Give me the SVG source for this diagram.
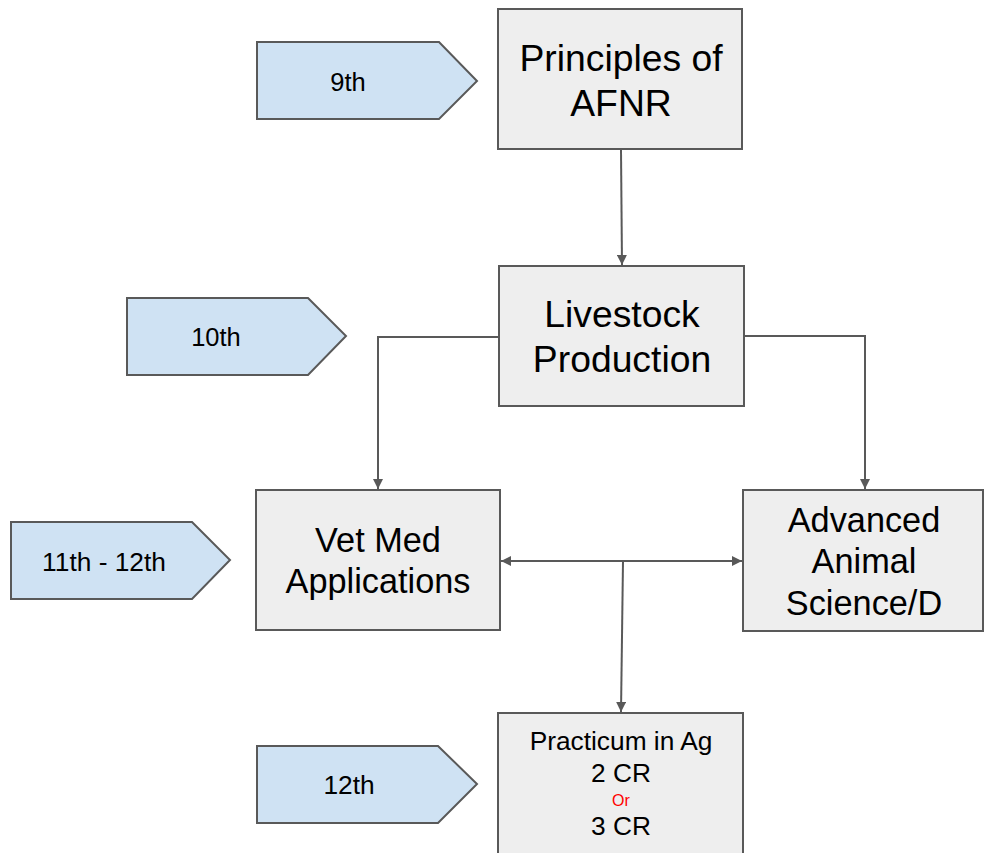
<svg xmlns="http://www.w3.org/2000/svg" width="984" height="853" viewBox="0 0 984 853">
<style>
.tag{fill:#cfe2f3;stroke:#595959;stroke-width:2;stroke-linejoin:miter}
.box{fill:#eeeeee;stroke:#595959;stroke-width:2}
.conn{fill:none;stroke:#595959;stroke-width:2}
text{font-family:"Liberation Sans",Arial,sans-serif;fill:#000;text-anchor:middle}
.t25{font-size:25.5px}
.t26{font-size:26.3px}
.t37{font-size:37.3px}
.t34{font-size:34.3px}
.red{font-size:16px;fill:#ff0000}
</style>
<defs>
<marker id="ah" viewBox="0 0 10 10" refX="10" refY="5" markerWidth="10" markerHeight="10" markerUnits="userSpaceOnUse" orient="auto-start-reverse">
<path d="M0,0 L10,5 L0,10 Z" fill="#595959"/>
</marker>
</defs>
<rect width="984" height="853" fill="#ffffff"/>
<g id="connectors">
<path class="conn" d="M621,150 L622,265" marker-end="url(#ah)"/>
<path class="conn" d="M499,337 L378,337 L378,489" marker-end="url(#ah)"/>
<path class="conn" d="M744,336 L865,336 L865,489" marker-end="url(#ah)"/>
<path class="conn" d="M501,561 L742,561" marker-start="url(#ah)" marker-end="url(#ah)"/>
<path class="conn" d="M623,561 L621,712" marker-end="url(#ah)"/>
</g>
<g id="tag9">
<path class="tag" d="M257,42 L439,42 L477,81 L439,119 L257,119 Z"/>
<text class="t25" x="348" y="91">9th</text>
</g>
<g id="tag10">
<path class="tag" d="M127,298 L308,298 L346,336 L308,375 L127,375 Z"/>
<text class="t25" x="216" y="346">10th</text>
</g>
<g id="tag11">
<path class="tag" d="M11,522 L192,522 L230,560 L192,599 L11,599 Z"/>
<text class="t26" x="104" y="571">11th - 12th</text>
</g>
<g id="tag12">
<path class="tag" d="M257,746 L438,746 L477,784 L438,823 L257,823 Z"/>
<text class="t26" x="349" y="794">12th</text>
</g>
<g id="principles">
<rect class="box" x="498" y="9" width="244" height="140"/>
<text class="t37" x="621" y="71">Principles of</text>
<text class="t37" x="621" y="116">AFNR</text>
</g>
<g id="livestock">
<rect class="box" x="499" y="266" width="245" height="140"/>
<text class="t37" x="622" y="327">Livestock</text>
<text class="t37" x="622" y="372">Production</text>
</g>
<g id="vetmed">
<rect class="box" x="256" y="490" width="244" height="140"/>
<text class="t34" x="378" y="552">Vet Med</text>
<text class="t34" x="378" y="593">Applications</text>
</g>
<g id="advanced">
<rect class="box" x="743" y="490" width="240" height="141"/>
<text class="t34" x="864" y="532">Advanced</text>
<text class="t34" x="864" y="573">Animal</text>
<text class="t34" x="864" y="615">Science/D</text>
</g>
<g id="practicum">
<rect class="box" x="498" y="713" width="245" height="150"/>
<text class="t26" x="621" y="750">Practicum in Ag</text>
<text class="t26" x="621" y="782">2 CR</text>
<text class="red" x="621" y="806">Or</text>
<text class="t26" x="621" y="835">3 CR</text>
</g>
</svg>
